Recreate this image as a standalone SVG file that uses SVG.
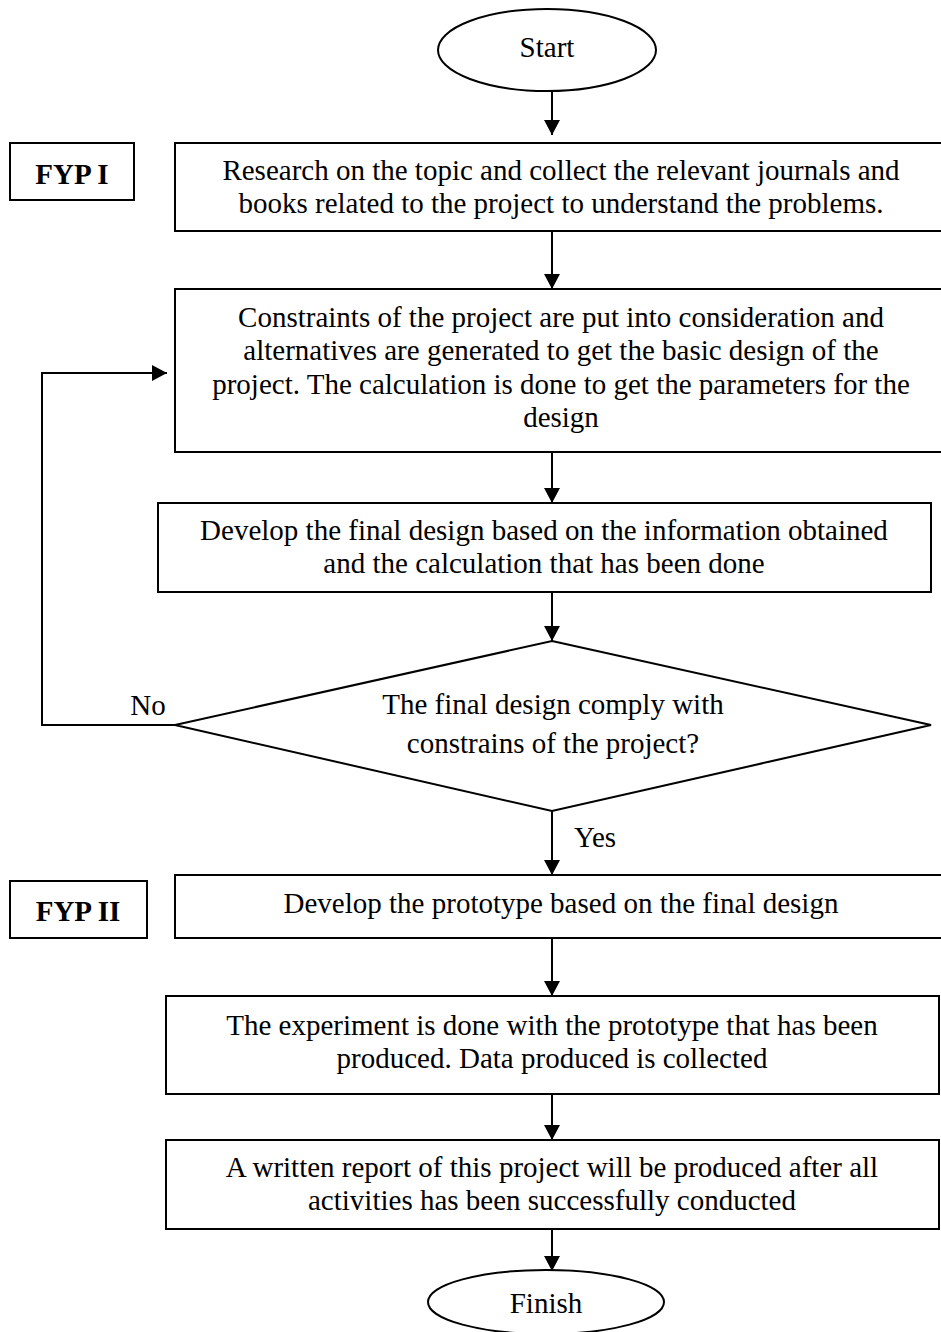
<svg xmlns="http://www.w3.org/2000/svg" width="941" height="1332" viewBox="0 0 941 1332">
<style>
.box{fill:#fff;stroke:#000;stroke-width:2}
.term{fill:#fff;stroke:#000;stroke-width:2}
.t{font-family:"Liberation Serif","Times New Roman",serif;font-size:29px;fill:#000;text-anchor:middle}
.b{font-weight:bold}
.ln{fill:none;stroke:#000;stroke-width:2}
</style>
<defs>
<marker id="ah" markerUnits="userSpaceOnUse" markerWidth="18" markerHeight="18" refX="15" refY="9" orient="auto">
<path d="M0,1 L15,9 L0,17 z" fill="#000"/>
</marker>
</defs>
<rect width="941" height="1332" fill="#fff"/>
<g id="connectors">
<line class="ln" x1="552" y1="91" x2="552" y2="135" marker-end="url(#ah)"/>
<line class="ln" x1="552" y1="231" x2="552" y2="289" marker-end="url(#ah)"/>
<line class="ln" x1="552" y1="452" x2="552" y2="503" marker-end="url(#ah)"/>
<line class="ln" x1="552" y1="592" x2="552" y2="641" marker-end="url(#ah)"/>
<polyline class="ln" points="175,725 42,725 42,373 167,373" marker-end="url(#ah)"/>
<line class="ln" x1="552" y1="811" x2="552" y2="875" marker-end="url(#ah)"/>
<line class="ln" x1="552" y1="938" x2="552" y2="996" marker-end="url(#ah)"/>
<line class="ln" x1="552" y1="1094" x2="552" y2="1140" marker-end="url(#ah)"/>
<line class="ln" x1="552" y1="1229" x2="552" y2="1271" marker-end="url(#ah)"/>
<text class="t" x="148" y="715">No</text>
<text class="t" x="595" y="847">Yes</text>
</g>
<g id="start">
<ellipse class="term" cx="547" cy="50" rx="109" ry="41"/>
<text class="t" x="547" y="57">Start</text>
</g>
<g id="fyp1">
<rect class="box" x="10" y="143" width="124" height="57"/>
<text class="t b" x="72" y="184">FYP I</text>
</g>
<g id="research">
<rect class="box" x="175" y="143" width="780" height="88"/>
<text class="t" x="561" y="180">Research on the topic and collect the relevant journals and</text>
<text class="t" x="561" y="213">books related to the project to understand the problems.</text>
</g>
<g id="constraints">
<rect class="box" x="175" y="289" width="780" height="163"/>
<text class="t" x="561" y="327">Constraints of the project are put into consideration and</text>
<text class="t" x="561" y="360">alternatives are generated to get the basic design of the</text>
<text class="t" x="561" y="394">project. The calculation is done to get the parameters for the</text>
<text class="t" x="561" y="427">design</text>
</g>
<g id="final-design">
<rect class="box" x="158" y="503" width="773" height="89"/>
<text class="t" x="544" y="540">Develop the final design based on the information obtained</text>
<text class="t" x="544" y="573">and the calculation that has been done</text>
</g>
<g id="decision">
<polygon class="box" points="552,641 931,725 552,811 175,725"/>
<text class="t" x="553" y="714">The final design comply with</text>
<text class="t" x="553" y="753">constrains of the project?</text>
</g>
<g id="fyp2">
<rect class="box" x="10" y="881" width="137" height="57"/>
<text class="t b" x="78" y="921">FYP II</text>
</g>
<g id="prototype">
<rect class="box" x="175" y="875" width="780" height="63"/>
<text class="t" x="561" y="913">Develop the prototype based on the final design</text>
</g>
<g id="experiment">
<rect class="box" x="166" y="996" width="773" height="98"/>
<text class="t" x="552" y="1035">The experiment is done with the prototype that has been</text>
<text class="t" x="552" y="1068">produced. Data produced is collected</text>
</g>
<g id="report">
<rect class="box" x="166" y="1140" width="773" height="89"/>
<text class="t" x="552" y="1177">A written report of this project will be produced after all</text>
<text class="t" x="552" y="1210">activities has been successfully conducted</text>
</g>
<g id="finish">
<ellipse class="term" cx="546" cy="1302" rx="118" ry="32"/>
<text class="t" x="546" y="1313">Finish</text>
</g>
</svg>
